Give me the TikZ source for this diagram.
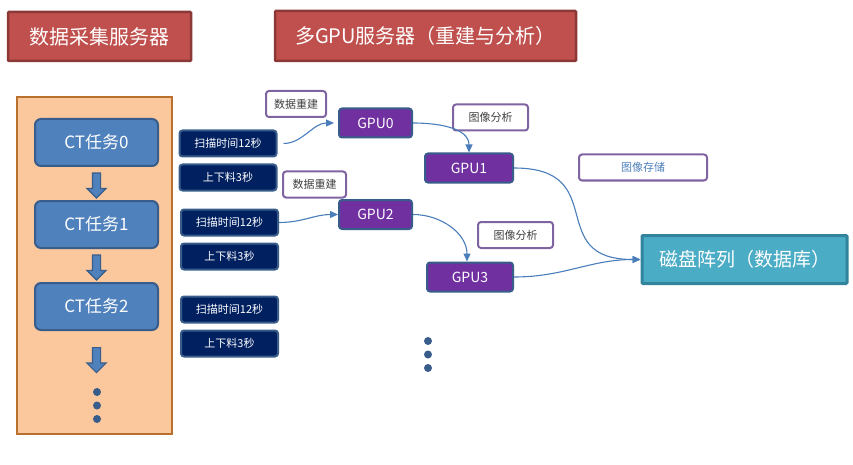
\documentclass[tikz,border=0pt]{standalone}
\usepackage{fontspec}
\setmainfont{Noto Sans CJK SC}
\usetikzlibrary{arrows.meta,calc,positioning,shapes.arrows}
\definecolor{TitleRed}{HTML}{C0504D}
\definecolor{TitleEdge}{HTML}{8C3836}
\definecolor{Peach}{HTML}{FBC79D}
\definecolor{PeachEdge}{HTML}{B9702F}
\definecolor{TaskBlue}{HTML}{4F81BD}
\definecolor{SteelEdge}{HTML}{385D8A}
\definecolor{Navy}{HTML}{002060}
\definecolor{GpuPurple}{HTML}{7030A0}
\definecolor{TagEdge}{HTML}{8064A2}
\definecolor{TagText}{HTML}{404040}
\definecolor{DiskCyan}{HTML}{4BACC6}
\definecolor{DiskEdge}{HTML}{31849B}
\definecolor{LinkBlue}{HTML}{4A7EBB}
\tikzset{
  servertitle/.style={
    draw=TitleEdge, line width=2.5pt, fill=TitleRed, text=white,
    rounded corners=1pt, inner sep=0pt, font=\fontsize{20}{24}\selectfont
  },
  panel/.style={draw=PeachEdge, line width=2.5pt, fill=Peach},
  task/.style={
    draw=SteelEdge, line width=2pt, fill=TaskBlue, text=white,
    rounded corners=6pt, minimum width=123pt, minimum height=47pt,
    inner sep=0pt, font=\fontsize{17}{20}\selectfont
  },
  phase/.style={
    draw=SteelEdge, line width=2pt, fill=Navy, text=white,
    rounded corners=3pt, minimum width=97pt, minimum height=26pt,
    inner sep=0pt, font=\fontsize{11}{13}\selectfont
  },
  gpu/.style={
    draw=SteelEdge, line width=2pt, fill=GpuPurple, text=white,
    rounded corners=3pt, minimum height=29pt,
    inner sep=0pt, font=\fontsize{14}{16}\selectfont
  },
  tag/.style={
    draw=TagEdge, line width=2pt, fill=white, text=TagText,
    rounded corners=3pt, minimum height=26pt,
    inner sep=0pt, font=\fontsize{11}{13}\selectfont
  },
  disk/.style={
    draw=DiskEdge, line width=3pt, fill=DiskCyan, text=white,
    rounded corners=1pt, minimum width=205pt, minimum height=48pt,
    inner sep=0pt, font=\fontsize{19}{22}\selectfont
  },
  downarrow/.style={
    single arrow, shape border rotate=270, draw=SteelEdge, fill=TaskBlue,
    line width=1.2pt, minimum height=25pt, inner sep=3.5pt,
    single arrow head extend=5.5pt, single arrow tip angle=90
  },
  dot/.style={circle, fill=SteelEdge, minimum size=8pt, inner sep=0pt},
  link/.style={-{Triangle[length=8pt,width=7pt]}, line width=1.1pt, draw=LinkBlue}
}

\begin{document}
\begin{tikzpicture}[x=1pt,y=-1pt]
    \useasboundingbox (0,0) rectangle (853,465);
    % server titles
    \node[servertitle,minimum width=183pt,minimum height=49pt] (collect) at (99.5,36.5) {数据采集服务器};
    \node[servertitle,minimum width=301pt,minimum height=50pt] (multigpu) at (425.5,36) {多GPU服务器（重建与分析）};
    % acquisition server
    \node[panel,minimum width=155pt,minimum height=337pt] (acq) at (94.5,265.5) {};
    \node[task] (ct0) at (96.5,142.5) {CT任务0};
    \node[task,below=33pt of ct0] (ct1) {CT任务1};
    \node[task,below=33pt of ct1] (ct2) {CT任务2};
    \node[downarrow] (a01) at ($(ct0.south)!0.5!(ct1.north)$) {};
    \node[downarrow] (a12) at ($(ct1.south)!0.5!(ct2.north)$) {};
    \node[downarrow,below=16pt of ct2] (a2n) {};
    \node[dot] (ld0) at (97,392) {};
    \node[dot] (ld1) at (97,405.5) {};
    \node[dot] (ld2) at (97,419) {};
    % scan and loading times
    \node[phase] (scanA) at (228,143.5) {扫描时间12秒};
    \node[phase,below=6pt of scanA] (loadA) {上下料3秒};
    \node[phase] (scanB) at (229.5,222.5) {扫描时间12秒};
    \node[phase,below=6pt of scanB] (loadB) {上下料3秒};
    \node[phase] (scanC) at (229.5,309.5) {扫描时间12秒};
    \node[phase,below=6pt of scanC] (loadC) {上下料3秒};
    % gpus
    \node[gpu,minimum width=73pt] (gpu0) at (375.5,123) {GPU0};
    \node[gpu,minimum width=88pt] (gpu1) at (469,168) {GPU1};
    \node[gpu,minimum width=73pt] (gpu2) at (375.5,214.5) {GPU2};
    \node[gpu,minimum width=86pt] (gpu3) at (470,277) {GPU3};
    \node[dot] (md0) at (428,341) {};
    \node[dot] (md1) at (428,354.5) {};
    \node[dot] (md2) at (428,368) {};
    % step labels
    \node[tag,minimum width=60pt] (rec0) at (296,104) {数据重建};
    \node[tag,minimum width=63pt] (rec1) at (314.5,184.5) {数据重建};
    \node[tag,minimum width=75pt] (ana0) at (490.5,117.5) {图像分析};
    \node[tag,minimum width=75pt] (ana1) at (515.5,235) {图像分析};
    \node[tag,minimum width=128pt,text=TaskBlue] (store) at (643,167.5) {图像存储};
    % storage
    \node[disk] (array) at (744.5,259.5) {磁盘阵列（数据库）};
    % links
    \draw[link,shorten <=6pt,shorten >=4pt] (scanA.east) to[out=0,in=180] (gpu0.west);
    \draw[link] (scanB.east) to[out=0,in=180] (gpu2.west);
    \draw[link] (gpu0.east) to[out=0,in=90] (gpu1.north);
    \draw[link] (gpu2.east) to[out=0,in=90] ([xshift=-3pt]gpu3.north);
    \draw[link] (gpu1.east) to[out=0,in=180,looseness=1.6] (array.west);
    \draw[link] (gpu3.east) to[out=0,in=180] (array.west);
\end{tikzpicture}
\end{document}
